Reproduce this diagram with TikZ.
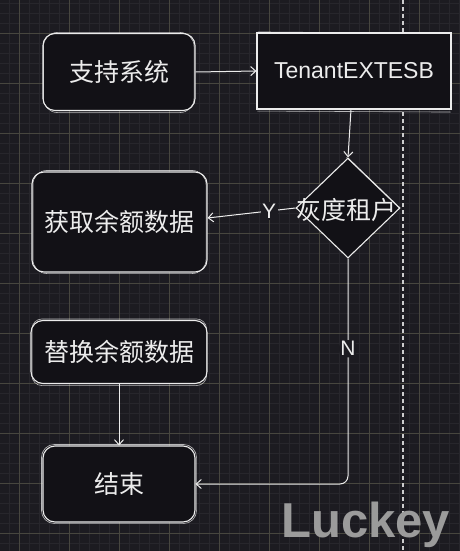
\documentclass[tikz,border=0pt]{standalone}
\usepackage{fontspec}
\setmainfont{Liberation Sans}
\newfontfamily\cjk{Noto Sans CJK SC}
\usetikzlibrary{shapes.geometric,arrows.meta}
\definecolor{bg}{HTML}{1C1B21}
\definecolor{boxfill}{HTML}{121116}
\definecolor{minorc}{HTML}{27262C}
\definecolor{majorc}{HTML}{47463F}
\definecolor{wm}{HTML}{9B9B9B}
\definecolor{ink}{HTML}{ECECEC}
\tikzset{
  minorline/.style={draw=minorc, line width=0.6pt},
  majorline/.style={draw=majorc, line width=0.8pt},
  cjkfont/.style={font=\cjk\fontsize{25}{28}\selectfont},
  rbox/.style={draw=ink, line width=1.1pt, fill=boxfill, rounded corners=12pt,
    text=ink, cjkfont, inner sep=0pt},
  sbox/.style={draw=ink, line width=1.1pt, fill=boxfill, text=ink, inner sep=0pt,
    font=\fontsize{23}{26}\selectfont},
  sk/.style={draw=ink, line width=0.6pt, opacity=0.75},
  arr/.style={draw=ink, line width=1pt, -{Straight Barb[length=5pt,width=9pt]}},
  elabel/.style={fill=bg, text=ink, inner sep=1.5pt}
}
\begin{document}
\begin{tikzpicture}[x=1pt,y=-1pt]
\useasboundingbox (0,0) rectangle (460,551);
\fill[bg] (0,0) rectangle (460,551);
\foreach \x in {9,19,...,459} \draw[minorline] (\x,0) -- (\x,551);
\foreach \y in {3,13,...,551} \draw[minorline] (0,\y) -- (460,\y);
\foreach \x in {19,69,...,419} \draw[majorline] (\x,0) -- (\x,551);
\foreach \y in {33,83,...,533} \draw[majorline] (0,\y) -- (460,\y);
\draw[draw=ink!85!bg, line width=1.6pt, dash pattern=on 4pt off 3pt] (403,0) -- (403,551);

\node[rbox, minimum width=152pt, minimum height=77pt] (sup) at (119,72) {支持系统};
\draw[sk, rounded corners=14pt] ([xshift=1pt,yshift=-1.5pt]sup.south west) rectangle ([xshift=-1.5pt,yshift=0.5pt]sup.north east);
\node[sbox, minimum width=194pt, minimum height=76pt] (esb) at (354,71) {TenantEXTESB};
\draw[sk] ([xshift=1pt,yshift=-1.5pt]esb.south west) -- ([xshift=-1pt,yshift=-2.5pt]esb.south east);
\draw[sk] ([xshift=1.5pt,yshift=0.5pt]esb.north west) -- ([xshift=-1pt,yshift=-1pt]esb.north east);

\node[draw=ink, line width=1.1pt, fill=boxfill, diamond, minimum width=104pt, minimum height=100pt, inner sep=0pt] (d) at (348,208) {};
\draw[sk] ([xshift=-1.5pt]d.north) -- ([xshift=-1.5pt]d.east);
\node[text=ink, cjkfont, inner sep=0pt] (dt) at (346,210) {灰度租户};

\node[rbox, minimum width=175pt, minimum height=100pt] (get) at (119.5,222) {获取余额数据};
\draw[sk, rounded corners=14pt] ([xshift=1.5pt,yshift=-1pt]get.south west) rectangle ([xshift=-1.5pt,yshift=1pt]get.north east);
\node[rbox, minimum width=176pt, minimum height=63pt] (rep) at (119,352) {替换余额数据};
\draw[sk, rounded corners=10pt] ([xshift=1.5pt,yshift=-1.5pt]rep.south west) rectangle ([xshift=-1pt,yshift=1pt]rep.north east);
\node[rbox, minimum width=152pt, minimum height=76pt] (end) at (119,484) {结束};
\draw[sk, rounded corners=13pt] ([xshift=-1pt,yshift=-1pt]end.south west) rectangle ([xshift=1pt,yshift=1pt]end.north east);

\draw[arr] (sup.east) -- (esb.west);
\draw[arr] ([xshift=-3pt]esb.south) -- (d.north);
\draw[arr] (d.west) -- node[elabel, pos=0.3, font=\fontsize{21}{21}\selectfont] (ly) {Y} ([yshift=4pt]get.east);
\draw[arr] (rep.south) -- (end.north);
\draw[arr, rounded corners=8pt] (d.south) |- node[elabel, pos=0.2, font=\fontsize{21}{21}\selectfont] (ln) {N} (end.east);

\node[anchor=base west, inner sep=0pt, text=wm, font=\bfseries\fontsize{49}{50}\selectfont] (wmk) at (281,537) {Luckey};
\end{tikzpicture}
\end{document}
